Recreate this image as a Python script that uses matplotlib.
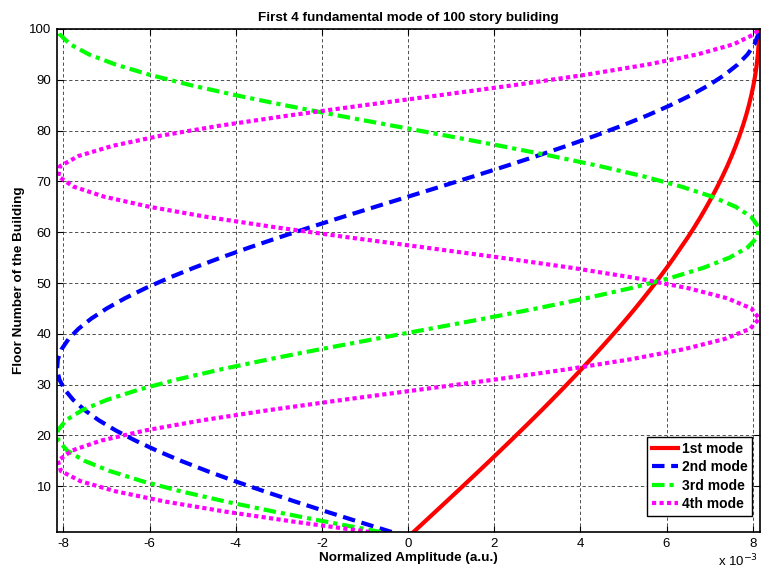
import numpy as np
import matplotlib
matplotlib.use("Agg")
import matplotlib.pyplot as plt

plt.rcParams['font.family'] = ['Liberation Sans', 'DejaVu Sans']
plt.rcParams['axes.unicode_minus'] = False

# Pisos (1, 3, 5, ..., 99, 100)
floors = list(range(1, 100, 2)) + [100]

# Amplitudes normalizadas (x 10^-3)
mode1 = [0.127, 0.382, 0.636, 0.890, 1.143, 1.394, 1.645, 1.893, 2.140, 2.385,
         2.627, 2.867, 3.105, 3.338, 3.569, 3.796, 4.020, 4.239, 4.455, 4.666,
         4.873, 5.075, 5.272, 5.463, 5.650, 5.830, 6.004, 6.172, 6.333, 6.495,
         6.646, 6.790, 6.927, 7.058, 7.182, 7.299, 7.409, 7.511, 7.606, 7.694,
         7.774, 7.847, 7.912, 7.969, 8.019, 8.061, 8.094, 8.120, 8.138, 8.148,
         8.150]
mode2 = [-0.382, -1.143, -1.893, -2.627, -3.338, -4.020, -4.666, -5.272, -5.830, -6.333,
         -6.790, -7.182, -7.511, -7.774, -7.969, -8.094, -8.148, -8.130, -8.041, -7.881,
         -7.651, -7.354, -6.994, -6.572, -6.092, -5.557, -4.973, -4.347, -3.683, -2.986,
         -2.263, -1.520, -0.763, 0.000, 0.763, 1.520, 2.263, 2.986, 3.683, 4.347,
         4.973, 5.557, 6.092, 6.572, 6.994, 7.354, 7.651, 7.881, 8.041, 8.130,
         8.148]
mode3 = [-0.636, -1.893, -3.105, -4.239, -5.272, -6.172, -6.927, -7.511, -7.912, -8.120,
         -8.130, -7.942, -7.560, -6.994, -6.257, -5.368, -4.347, -3.222, -2.017, -0.763,
         0.509, 1.769, 2.986, 4.130, 5.173, 6.092, 6.859, 7.461, 7.881, 8.108,
         8.138, 7.969, 7.606, 7.058, 6.333, 5.464, 4.455, 3.338, 2.140, 0.890,
         -0.382, -1.644, -2.867, -4.020, -5.075, -6.004, -6.790, -7.409, -7.847, -8.094,
         -8.144]
mode4 = [-0.890, -2.627, -4.239, -5.650, -6.790, -7.606, -8.060, -8.130, -7.812, -7.121,
         -6.092, -4.769, -3.222, -1.520, 0.255, 2.017, 3.683, 5.173, 6.415, 7.354,
         7.942, 8.150, 7.969, 7.409, 6.495, 5.272, 3.796, 2.140, 0.382, -1.394,
         -3.105, -4.666, -6.004, -7.058, -7.774, -8.120, -8.078, -7.651, -6.859, -5.741,
         -4.347, -2.747, -1.016, 0.763, 2.506, 4.130, 5.557, 6.719, 7.560, 8.041,
         8.138]

labels = ['1st mode', '2nd mode', '3rd mode', '4th mode']
colors = ['#ff0000', '#0000ff', '#00ff00', '#ff00ff']
styles = ['-', (0, (3, 1.6)), (0, (3, 1.2, 1, 1.2)), (0, (1, 0.8))]

fig = plt.figure(figsize=(7.62, 5.74), dpi=100)
ax = fig.add_axes([0.0748, 0.0732, 0.9226, 0.8763])

for vals, lab, col, ls in zip([mode1, mode2, mode3, mode4], labels, colors, styles):
    ax.plot(vals, floors, color=col, linestyle=ls, linewidth=3, label=lab)

ax.set_xlim(-8.15, 8.17)
ax.set_ylim(1, 100)
ax.set_xticks(np.arange(-8, 9, 2))
ax.set_yticks(np.arange(10, 101, 10))
ax.tick_params(direction='in', top=True, right=True, labelsize=9.5, length=4, pad=4)
ax.grid(True, color='black', linestyle=(0, (4, 3)), linewidth=0.6, alpha=0.8)
for s in ax.spines.values():
    s.set_linewidth(1.2)

ax.set_title('First 4 fundamental mode of 100 story buliding', fontsize=9.7, fontweight='bold', pad=6)
ax.set_xlabel('Normalized Amplitude (a.u.)', fontsize=9.7, fontweight='bold', labelpad=2)
ax.set_ylabel('Floor Number of the Building', fontsize=9.7, fontweight='bold', labelpad=3)
ax.text(0.997, -0.042, r'x 10$^{-3}$', transform=ax.transAxes, ha='right', va='top', fontsize=9.5)

leg = ax.legend(loc='lower right', bbox_to_anchor=(0.989, 0.032), borderaxespad=0,
                fancybox=False, edgecolor='black', framealpha=1, handlelength=1.85,
                borderpad=0.35, labelspacing=0.32, handletextpad=0.3,
                prop={'weight': 'bold', 'size': 10})
leg.get_frame().set_linewidth(1.0)

fig.savefig('out.png', dpi=100)
